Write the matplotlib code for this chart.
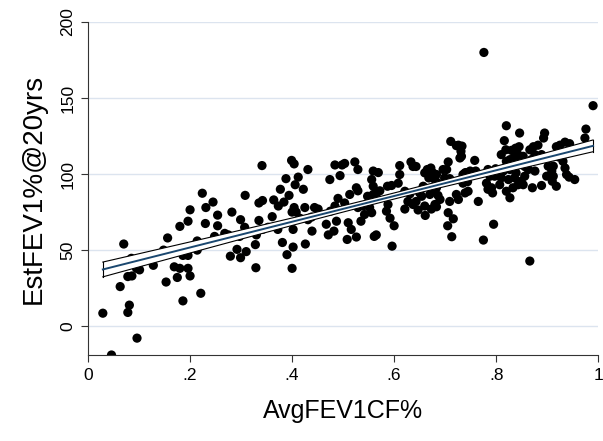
import numpy as np
import matplotlib
matplotlib.use("Agg")
import matplotlib.pyplot as plt

plt.rcParams["font.family"] = ["Liberation Sans", "DejaVu Sans"]

# AvgFEV1CF% (x) and EstFEV1%@20yrs (y)
avg_fev1cf = [
    0.029, 0.046, 0.096, 0.078, 0.081, 0.063, 0.078, 0.086, 0.070, 0.085,
    0.095, 0.101, 0.103, 0.125, 0.128, 0.148, 0.156, 0.153, 0.169, 0.175,
    0.180, 0.186, 0.186, 0.196, 0.196, 0.200, 0.180, 0.196, 0.200, 0.214,
    0.214, 0.221, 0.224, 0.231, 0.230, 0.245, 0.248, 0.254, 0.254,
    0.268, 0.275, 0.282, 0.279, 0.292, 0.299, 0.310, 0.299, 0.307, 0.308,
    0.297, 0.329, 0.328, 0.330, 0.335, 0.335, 0.342, 0.341, 0.342, 0.353,
    0.361, 0.364, 0.372, 0.377, 0.373, 0.381, 0.384, 0.388, 0.390, 0.394,
    0.399, 0.404, 0.400, 0.402, 0.402, 0.400, 0.404, 0.408, 0.412, 0.406,
    0.422, 0.415, 0.425, 0.431, 0.438, 0.444, 0.451, 0.426, 0.439, 0.431,
    0.467, 0.471, 0.474, 0.475, 0.484, 0.487, 0.484, 0.490, 0.494, 0.498,
    0.482,
    0.503, 0.523, 0.529, 0.513, 0.503, 0.526, 0.529, 0.510, 0.516, 0.508,
    0.526, 0.535, 0.529, 0.539, 0.542, 0.552, 0.556, 0.548, 0.559, 0.565,
    0.572, 0.556, 0.559, 0.569, 0.559, 0.561, 0.565, 0.587, 0.595, 0.588,
    0.585, 0.592, 0.600, 0.596, 0.611, 0.611, 0.608, 0.621, 0.621, 0.627,
    0.631, 0.633, 0.637, 0.643, 0.637, 0.643, 0.647, 0.650, 0.654, 0.657,
    0.660, 0.661, 0.660, 0.665, 0.672, 0.668, 0.676, 0.683, 0.680, 0.686,
    0.683, 0.676, 0.670, 0.686, 0.690, 0.680, 0.673, 0.683, 0.696, 0.703,
    0.706, 0.709, 0.699, 0.711, 0.722, 0.731, 0.732, 0.729, 0.709, 0.722,
    0.726, 0.706, 0.716, 0.705, 0.713, 0.735, 0.741, 0.745, 0.744,
    0.990, 0.976, 0.974, 0.866, 0.775, 0.795, 0.765, 0.739, 0.758, 0.820,
    0.846, 0.816, 0.895, 0.893, 0.819, 0.830, 0.838, 0.845, 0.810, 0.820,
    0.827, 0.836, 0.843, 0.853, 0.850, 0.843, 0.836, 0.866, 0.873, 0.882,
    0.876, 0.869, 0.882, 0.889, 0.918, 0.925, 0.935, 0.944, 0.928, 0.922,
    0.931, 0.935, 0.912, 0.902, 0.909, 0.938, 0.943, 0.954, 0.918, 0.889,
    0.871, 0.899, 0.912, 0.910, 0.863, 0.876, 0.856, 0.849, 0.843, 0.833,
    0.827, 0.820, 0.807, 0.810, 0.824, 0.836, 0.853, 0.839, 0.856, 0.827,
    0.814, 0.784, 0.799, 0.788, 0.797, 0.781, 0.791, 0.784, 0.793, 0.806,
    0.749, 0.760, 0.739, 0.735, 0.776, 0.726, 0.733,
]
est_fev1_20yrs = [
    8.5, -19.0, -7.9, 9.0, 13.8, 26.0, 32.6, 33.0, 54.0, 44.6,
    38.0, 37.0, 42.0, 46.0, 40.0, 50.0, 58.0, 29.0, 39.0, 32.0,
    38.0, 16.6, 46.5, 46.5, 38.0, 33.0, 65.6, 69.0, 76.5, 56.0,
    50.0, 21.6, 87.4, 78.0, 67.5, 81.6, 59.0, 73.0, 66.0,
    61.0, 60.0, 75.0, 46.0, 50.5, 45.0, 49.0, 70.0, 65.0, 86.0,
    59.0, 38.4, 53.6, 60.0, 69.5, 81.0, 82.6, 105.6, 63.6, 65.0,
    72.0, 83.0, 63.6, 90.0, 79.0, 55.0, 81.6, 97.0, 47.0, 86.0,
    109.0, 106.7, 38.0, 52.0, 63.6, 75.0, 78.0, 75.0, 98.0, 93.0,
    90.0, 71.0, 78.0, 70.0, 71.7, 78.0, 77.0, 54.0, 62.5, 103.0,
    67.0, 60.0, 96.4, 75.6, 79.0, 69.0, 106.0, 84.0, 99.0, 106.0,
    62.5,
    107.0, 108.0, 103.0, 86.6, 81.0, 91.0, 89.0, 68.0, 63.6, 57.0,
    58.6, 69.0, 78.0, 79.0, 73.4, 78.0, 74.6, 85.4, 86.6, 87.0,
    89.0, 96.4, 102.0, 101.0, 92.0, 59.0, 60.0, 92.0, 92.5, 80.0,
    75.6, 71.0, 66.0, 52.6, 105.6, 99.7, 94.0, 88.7, 77.0, 82.0,
    87.0, 108.0, 105.0, 105.0, 80.0, 82.0, 76.4, 87.6, 85.4, 92.0,
    79.0, 72.8, 100.8, 103.0, 104.0, 97.5, 100.8, 99.7, 96.4, 94.0,
    91.0, 88.7, 86.6, 86.0, 83.3, 80.0, 77.0, 78.5, 103.0, 103.0,
    108.0, 97.0, 97.5, 121.5, 118.7, 115.0, 111.7, 110.6, 82.0, 86.6,
    83.3, 74.6, 70.6, 66.0, 58.8, 99.7, 101.0, 88.7, 95.0,
    145.0, 129.6, 123.7, 42.8, 56.6, 67.0, 82.0, 87.6, 109.0, 131.8,
    127.0, 122.0, 127.0, 123.7, 116.0, 115.6, 117.0, 118.0, 112.8, 108.4,
    109.5, 111.3, 112.8, 111.7, 108.4, 106.2, 104.0, 116.0, 118.0, 119.0,
    112.8, 109.5, 109.5, 112.8, 118.0, 119.0, 121.0, 120.0, 115.0, 111.3,
    108.4, 104.0, 105.2, 105.2, 102.0, 99.7, 98.0, 96.4, 92.0, 92.5,
    91.0, 98.6, 98.6, 95.3, 103.0, 102.0, 98.6, 95.3, 93.0, 91.0,
    84.4, 88.7, 93.0, 97.5, 96.4, 97.5, 93.0, 100.8, 105.0, 103.0,
    102.0, 103.0, 103.5, 98.6, 98.6, 94.0, 91.0, 90.0, 87.6, 101.8,
    102.0, 102.0, 100.8, 94.0, 180.0, 119.0, 118.4,
]

x_ticks = [0, 0.2, 0.4, 0.6, 0.8, 1.0]
x_tick_labels = ["0", ".2", ".4", ".6", ".8", "1"]
y_ticks = [0, 50, 100, 150, 200]

x = np.array(avg_fev1cf)
y = np.array(est_fev1_20yrs)

# linear fit with 95% CI of the mean prediction (like lfitci)
n = len(x)
b1, b0 = np.polyfit(x, y, 1)
resid = y - (b0 + b1 * x)
s = np.sqrt(np.sum(resid ** 2) / (n - 2))
xs = np.linspace(x.min(), x.max(), 100)
yhat = b0 + b1 * xs
se = s * np.sqrt(1 / n + (xs - x.mean()) ** 2 / np.sum((x - x.mean()) ** 2))
t = 1.968
lo, hi = yhat - t * se, yhat + t * se

fig = plt.figure(figsize=(6.03, 4.41), dpi=100)
ax = fig.add_axes([0.146, 0.195, 0.846, 0.755])

for yt in y_ticks:
    ax.axhline(yt, color="#dce4ef", linewidth=1.0, zorder=0)

ax.scatter(x, y, s=44, color="black", edgecolors="none", zorder=2)
ax.fill_between(xs, lo, hi, facecolor="white", edgecolor="none", zorder=3)
ax.plot(xs, lo, color="black", linewidth=0.8, zorder=4)
ax.plot(xs, hi, color="black", linewidth=0.8, zorder=4)
ax.plot([xs[0], xs[0]], [lo[0], hi[0]], color="black", linewidth=0.8, zorder=4)
ax.plot([xs[-1], xs[-1]], [lo[-1], hi[-1]], color="black", linewidth=0.8, zorder=4)
ax.plot(xs, yhat, color="#1a476f", linewidth=1.4, zorder=5)

ax.set_xlim(0, 1)
ax.set_ylim(-19, 200)
ax.set_xticks(x_ticks)
ax.set_xticklabels(x_tick_labels)
ax.set_yticks(y_ticks)
ax.set_yticklabels([str(v) for v in y_ticks], rotation=90, va="center")
ax.tick_params(labelsize=12.5, length=5, width=0.8, color="#333333", pad=4)

for side in ["top", "right"]:
    ax.spines[side].set_visible(False)
for side in ["left", "bottom"]:
    ax.spines[side].set_color("#333333")
    ax.spines[side].set_linewidth(0.8)

ax.set_xlabel("AvgFEV1CF%", fontsize=18, labelpad=12)
ax.set_ylabel("EstFEV1%@20yrs", fontsize=20, labelpad=10)

fig.savefig("out.png", dpi=100)
